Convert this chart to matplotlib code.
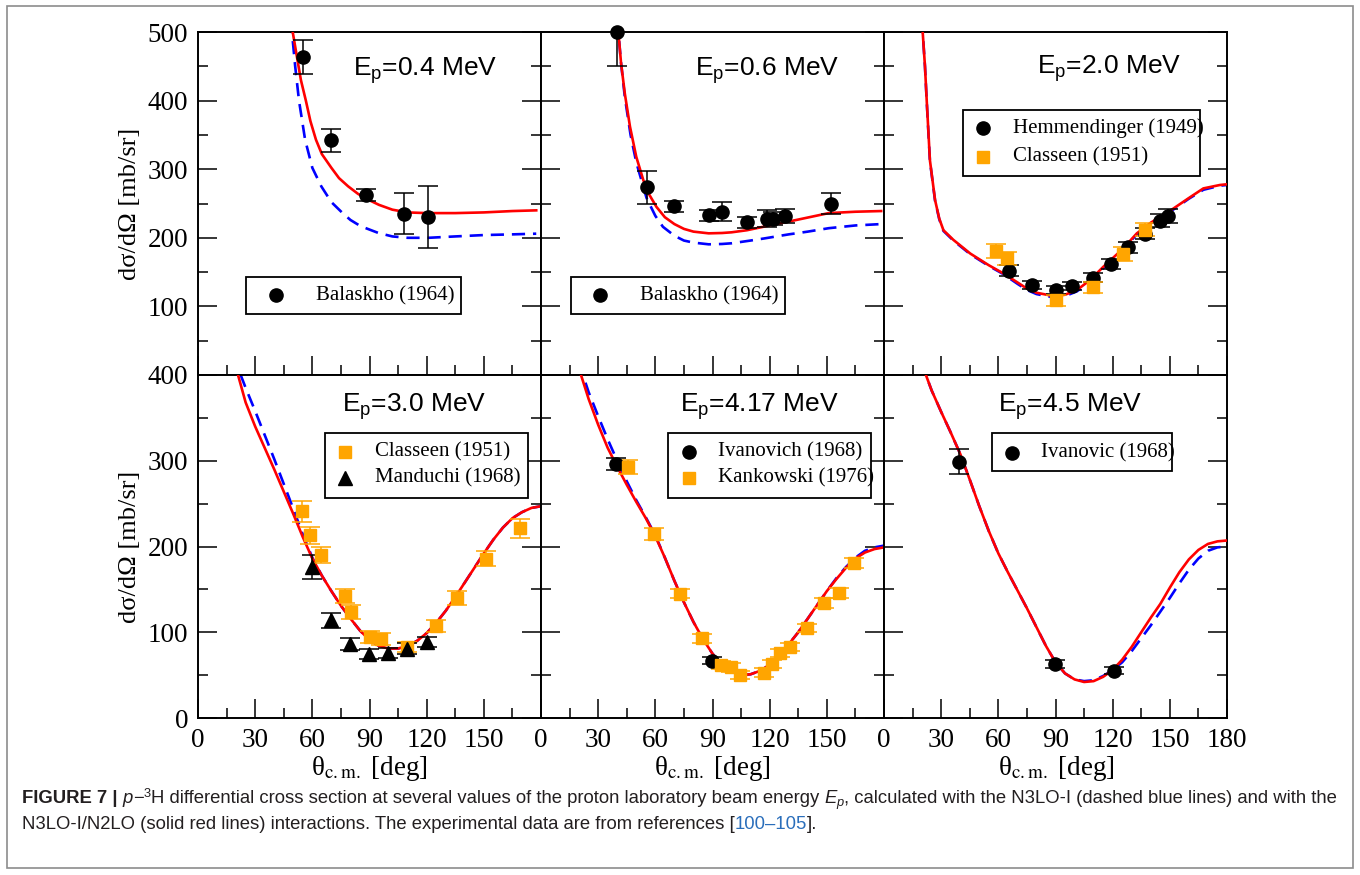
import matplotlib
matplotlib.use('Agg')
import matplotlib.pyplot as plt
from matplotlib.patches import Rectangle
from matplotlib import font_manager
from matplotlib.transforms import IdentityTransform

# ---- data ---------------------------------------------------------------
# Ep = 0.4 MeV
bal04_th = [55.3, 69.9, 88.1, 108.2, 120.9]
bal04_xs = [464, 342, 262, 235, 230]
bal04_er = [25, 17, 9, 30, 45]
red04_th = [48, 49.7, 51.9, 54, 56.6, 59, 61.9, 65, 70, 74, 78.8, 84, 89, 95, 102, 110, 120, 135, 150, 165, 177.5]
red04_xs = [560, 500, 464, 430, 400, 370, 343, 322, 302, 287, 275, 264, 256, 248, 241, 237, 236, 236, 237, 239, 240]
blu04_th = [47.5, 49.3, 51, 53, 56.2, 60, 64.7, 70, 75.9, 80, 85.3, 94.7, 102, 110, 121, 135, 150, 165, 177.5]
blu04_xs = [560, 500, 450, 400, 343, 302, 275, 252, 236, 226, 217, 207, 202, 200, 200, 202, 204, 205, 206]

# Ep = 0.6 MeV
bal06_th = [40.0, 55.4, 69.8, 88.3, 95.1, 108.2, 118.7, 121.5, 128.0, 152.2]
bal06_xs = [500, 274, 246, 233, 238, 223, 228, 228, 232, 250]
bal06_er = [50, 24, 8, 8, 14, 8, 12, 10, 10, 15]
red06_th = [39.5, 40.6, 42, 44, 46.7, 50, 53.7, 57, 60.6, 65, 70, 75, 80, 88, 95, 100, 108, 120, 134, 151, 165, 178.5]
red06_xs = [560, 500, 455, 410, 362, 318, 284, 262, 245, 230, 220, 213, 209, 206.5, 207, 208, 211, 218, 226, 236, 238, 239]
blu06_th = [39.5, 40.6, 42, 44, 47, 50, 55.4, 60, 64, 70, 75, 80, 88, 95, 100, 110, 117, 130, 140, 151, 165, 178.5]
blu06_xs = [560, 500, 455, 405, 350, 310, 258, 232, 216, 203, 196, 193, 190.5, 191, 192, 196, 199, 205, 209, 214, 218, 220]

# Ep = 2.0 MeV
hem20_th = [65.8, 77.5, 90.3, 98.5, 109.5, 119.0, 128.2, 136.8, 145.0, 148.9]
hem20_xs = [152, 131, 124, 130, 142, 162, 186, 206, 225, 232]
hem20_er = [8, 6, 6, 6, 7, 7, 8, 8, 9, 10]
cla20_th = [58.8, 64.7, 90.3, 109.5, 125.3, 136.8]
cla20_xs = [181, 170, 109, 128, 176, 212]
cla20_er = [10, 10, 8, 8, 10, 10]
red20_th = [19.8, 20.3, 21.5, 22.4, 24.1, 26.8, 29, 31.2, 36.4, 45.3, 55, 62.7, 70, 75, 80, 89, 95,
            101.3, 108, 115.2, 125, 132.7, 140, 150.2, 160, 167.6, 176.3, 180]
red20_xs = [560, 500, 450, 401, 313, 255, 228, 211, 197, 177, 160, 148, 135, 126, 120, 115, 117,
            124, 138, 158, 183, 206.5, 222, 239.5, 258, 272, 277, 278]
blu20_xs = [560, 500, 450, 400, 312, 254, 227, 210, 196, 176, 159, 147, 133, 124, 118, 113, 115,
            122, 136, 156, 182, 205, 221, 238, 257, 270, 276, 277]

# Ep = 3.0 MeV
cla30_th = [54.6, 58.8, 64.7, 77.0, 80.1, 90.1, 96.2, 109.8, 125.0, 136.0, 151.3, 168.8]
cla30_xs = [241, 213, 190, 142, 124, 95, 92, 83, 107, 140, 186, 221]
cla30_er = [12, 10, 9, 8, 8, 7, 7, 6, 7, 8, 9, 11]
man30_th = [60.0, 70.0, 80.0, 89.7, 99.7, 109.8, 120.0]
man30_xs = [176, 114, 86, 75, 76, 81, 89]
man30_er = [14, 9, 7, 6, 6, 6, 6]
red30_th = [20, 21, 25, 30, 35, 40, 45, 50, 55, 60, 65, 70, 75, 80, 85, 90, 95, 100, 105, 110, 115,
            120, 125, 130, 135, 140, 145, 150, 155, 160, 165, 170, 175, 180]
red30_xs = [430, 400, 368, 340, 315, 290, 264, 238, 211, 186, 166, 148, 131, 116, 102, 91, 84, 81, 81,
            84, 90, 99, 111, 125, 141, 158, 175, 192, 208, 222, 233, 240, 245, 247]
blu30_th = [21, 22.4, 25, 30, 35, 40, 45, 50, 55, 60, 65, 70, 75, 80, 85, 90, 95, 100, 105, 110, 115,
            120, 125, 130, 135, 140, 145, 150, 155, 160, 165, 170, 175, 180]
blu30_xs = [425, 400, 385, 358, 330, 302, 273, 244, 214, 187, 166, 148, 131, 116, 102, 91, 84, 81, 81,
            84, 90, 99, 111, 125, 141, 158, 175, 192, 208, 222, 233, 240, 245, 247]

# Ep = 4.17 MeV
iva417_th = [39.4, 89.7]
iva417_xs = [296, 67]
iva417_er = [7, 4]
kan417_th = [45.8, 59.5, 73.1, 84.5, 94.4, 99.7, 104.6, 116.8, 121.0, 125.6, 130.8, 139.6, 148.3, 156.2, 164.4]
kan417_xs = [293, 215, 145, 93, 62, 59, 50, 53, 63, 76, 83, 105, 134, 146, 181]
kan417_er = [8, 7, 5, 5, 5, 5, 5, 5, 5, 5, 5, 5, 6, 6, 6]
red417_th = [20, 21, 25, 30, 35, 40, 45, 50, 55, 60, 65, 70, 75, 80, 85, 90, 95, 100, 105, 110, 115,
             120, 125, 130, 135, 140, 145, 150, 155, 160, 165, 170, 175, 180]
red417_xs = [420, 400, 372, 342, 315, 293, 272, 252, 233, 212, 187, 160, 135, 112, 92, 75, 62, 54, 50,
             51, 55, 62, 73, 86, 100, 116, 132, 148, 162, 175, 186, 193, 197, 199]
blu417_th = [21, 22, 25, 30, 35, 40, 45, 50, 55, 60, 65, 70, 75, 80, 85, 90, 95, 100, 105, 110, 115,
             120, 125, 130, 135, 140, 145, 150, 155, 160, 165, 170, 175, 180]
blu417_xs = [415, 400, 380, 352, 325, 300, 276, 254, 234, 213, 187, 160, 135, 112, 92, 75, 62, 54, 50,
             51, 55, 62, 73, 86, 100, 116, 132, 148, 163, 176, 187, 195, 199, 201]

# Ep = 4.5 MeV
iva45_th = [39.4, 89.7, 120.7]
iva45_xs = [299, 63, 55]
iva45_er = [15, 5, 4]
red45_th = [21, 22, 25, 30, 35, 40, 45, 50, 55, 60, 65, 70, 75, 80, 85, 90, 95, 100, 105, 110, 115,
            120, 125, 130, 135, 140, 145, 150, 155, 160, 165, 170, 175, 180]
red45_xs = [415, 400, 382, 357, 333, 308, 278, 247, 218, 192, 170, 149, 128, 106, 84, 65, 52, 45, 42,
            43, 48, 56, 68, 83, 100, 117, 133, 152, 170, 185, 196, 203, 206, 207]
blu45_xs = [415, 400, 382, 357, 333, 308, 278, 247, 218, 192, 170, 149, 128, 106, 84, 65, 52, 45, 43,
            44, 49, 56, 65, 78, 93, 108, 124, 140, 157, 173, 186, 195, 199, 200]

titles = ['E$_{\\mathrm{p}}$=0.4 MeV', 'E$_{\\mathrm{p}}$=0.6 MeV', 'E$_{\\mathrm{p}}$=2.0 MeV',
          'E$_{\\mathrm{p}}$=3.0 MeV', 'E$_{\\mathrm{p}}$=4.17 MeV', 'E$_{\\mathrm{p}}$=4.5 MeV']
ylabel = 'd\u03c3/d\u03a9 [mb/sr]'
xlabel = '\u03b8$_{\\rm c.m.}$ [deg]'

ORANGE = '#ffa500'
W, H = 1360, 875

plt.rcParams['font.family'] = ['Liberation Serif', 'DejaVu Serif']
plt.rcParams['mathtext.fontset'] = 'custom'
plt.rcParams['mathtext.rm'] = 'Liberation Sans'
plt.rcParams['mathtext.it'] = 'Liberation Sans:italic'

fig = plt.figure(figsize=(W / 100, H / 100), dpi=100)


def px(x, y):
    return x / W, 1 - y / H


def panel(col, row):
    x0 = [198, 541, 884][col]
    y0 = [32, 375][row]
    ax = fig.add_axes([x0 / W, 1 - (y0 + 343) / H, 343 / W, 343 / H])
    ax.set_xlim(0, 180)
    ax.set_xticks(range(0, 181 if col == 2 else 151, 30))
    ax.set_xticks(range(15, 180, 30), minor=True)
    if row == 0:
        ax.set_ylim(0, 500)
        ax.set_yticks(range(100, 501, 100))
        ax.set_yticks(range(50, 500, 100), minor=True)
    else:
        ax.set_ylim(0, 400)
        ax.set_yticks(range(0, 401, 100))
        ax.set_yticks(range(50, 400, 100), minor=True)
    ax.tick_params(which='both', direction='in', top=False, right=True, width=1.1)
    ax.tick_params(which='major', length=13.5, labelsize=19.5, pad=7)
    ax.tick_params(which='minor', length=7)
    if row == 0:
        ax.tick_params(labelbottom=False)
    if col > 0:
        ax.tick_params(labelleft=False)
    for s in ax.spines.values():
        s.set_linewidth(1.4)
    return ax


def curves(ax, bth, bxs, rth, rxs):
    ax.plot(bth, bxs, color='blue', lw=1.9, dashes=(5, 3), zorder=2)
    ax.plot(rth, rxs, color='red', lw=1.9, zorder=3)


def points(ax, th, xs, er, marker, color, ms):
    c = ax.errorbar(th, xs, yerr=er, fmt=marker, color=color, ms=ms, elinewidth=1.1,
                    capsize=7, capthick=1.1, zorder=4)
    c.lines[0].set_clip_on(False)


def key(ax, box, rows, mx, tx):
    x0, y0, x1, y1 = box
    ax.add_patch(Rectangle((x0, y0), x1 - x0, y1 - y0, transform=ax.transAxes,
                           fc='white', ec='black', lw=1.3, zorder=5))
    for marker, color, ms, label, y in rows:
        ax.plot([mx], [y], marker=marker, color=color, ms=ms, ls='none',
                transform=ax.transAxes, zorder=6)
        ax.text(tx, y, label, transform=ax.transAxes, va='center', fontsize=15, zorder=6)


def title(ax, s, x, y):
    ax.text(x, y, s, transform=ax.transAxes, ha='center', va='baseline', fontsize=19,
            family='Liberation Sans')


# top row
ax = panel(0, 0)
curves(ax, blu04_th, blu04_xs, red04_th, red04_xs)
points(ax, bal04_th, bal04_xs, bal04_er, 'o', 'black', 9.5)
key(ax, (0.14, 0.178, 0.767, 0.286), [('o', 'black', 9.5, 'Balaskho (1964)', 0.232)], 0.227, 0.344)
title(ax, titles[0], 0.662, 0.872)

ax = panel(1, 0)
curves(ax, blu06_th, blu06_xs, red06_th, red06_xs)
points(ax, bal06_th, bal06_xs, bal06_er, 'o', 'black', 9.5)
key(ax, (0.087, 0.178, 0.71, 0.286), [('o', 'black', 9.5, 'Balaskho (1964)', 0.232)], 0.172, 0.289)
title(ax, titles[1], 0.66, 0.872)

ax = panel(2, 0)
curves(ax, red20_th, blu20_xs, red20_th, red20_xs)
points(ax, hem20_th, hem20_xs, hem20_er, 'o', 'black', 9.5)
points(ax, cla20_th, cla20_xs, cla20_er, 's', ORANGE, 8)
key(ax, (0.229, 0.58, 0.92, 0.773),
    [('o', 'black', 9.5, 'Hemmendinger (1949)', 0.719),
     ('s', ORANGE, 8, 'Classeen (1951)', 0.636)], 0.288, 0.375)
title(ax, titles[2], 0.655, 0.877)

# bottom row
ax = panel(0, 1)
curves(ax, blu30_th, blu30_xs, red30_th, red30_xs)
points(ax, cla30_th, cla30_xs, cla30_er, 's', ORANGE, 8)
points(ax, man30_th, man30_xs, man30_er, '^', 'black', 9.5)
key(ax, (0.371, 0.64, 0.962, 0.83),
    [('s', ORANGE, 8, 'Classeen (1951)', 0.776),
     ('^', 'black', 9.5, 'Manduchi (1968)', 0.699)], 0.428, 0.515)
title(ax, titles[3], 0.63, 0.893)

ax = panel(1, 1)
curves(ax, blu417_th, blu417_xs, red417_th, red417_xs)
points(ax, iva417_th, iva417_xs, iva417_er, 'o', 'black', 9.5)
points(ax, kan417_th, kan417_xs, kan417_er, 's', ORANGE, 8)
key(ax, (0.371, 0.64, 0.962, 0.83),
    [('o', 'black', 9.5, 'Ivanovich (1968)', 0.776),
     ('s', ORANGE, 8, 'Kankowski (1976)', 0.699)], 0.432, 0.515)
title(ax, titles[4], 0.637, 0.893)

ax = panel(2, 1)
curves(ax, red45_th, blu45_xs, red45_th, red45_xs)
points(ax, iva45_th, iva45_xs, iva45_er, 'o', 'black', 9.5)
key(ax, (0.314, 0.72, 0.84, 0.83), [('o', 'black', 9.5, 'Ivanovic (1968)', 0.773)], 0.372, 0.457)
title(ax, titles[5], 0.544, 0.893)

# axis labels
for yc in (203.5, 546.5):
    fig.text(*px(130, yc), ylabel, rotation=90, ha='center', va='center', fontsize=19)
for xc in (369.5, 712.5, 1056):
    fig.text(*px(xc, 775), xlabel, ha='center', va='baseline', fontsize=19.5, math_fontfamily='stix')

# frame around figure + caption
fig.add_artist(Rectangle(px(7, 868), 1346 / W, 862 / H, transform=fig.transFigure,
                         fill=False, ec='#8c8c8c', lw=1.2))

names = {f.name for f in font_manager.fontManager.ttflist}
cap_fam = 'Liberation Sans Narrow' if 'Liberation Sans Narrow' in names else 'Liberation Sans'
cap_size = 14.5 if cap_fam == 'Liberation Sans Narrow' else 13.3
TXT = '#231f20'
styles = {
    'r': dict(),
    'b': dict(weight='bold'),
    'i': dict(style='italic'),
    'sup': dict(size_mul=0.7, dy=6),
    'sub': dict(style='italic', size_mul=0.7, dy=-3),
    'link': dict(color='#2a6ebb'),
}
rend = fig.canvas.get_renderer()


def tw(s, **kw):
    t = fig.text(0, 0, s, fontsize=cap_size, family=[cap_fam, 'DejaVu Sans'], **kw)
    w = t.get_window_extent(rend).width
    t.remove()
    return w


space_w = tw('x x') - tw('xx')


def caption_line(x, ybase, parts):
    for s, st in parts:
        opts = dict(styles[st])
        mul = opts.pop('size_mul', 1.0)
        dy = opts.pop('dy', 0)
        color = opts.pop('color', TXT)
        lead = len(s) - len(s.lstrip(' '))
        trail = len(s) - len(s.rstrip(' '))
        x += lead * space_w
        s = s.strip(' ')
        t = fig.text(x, H - ybase + dy, s, transform=IdentityTransform(), fontsize=cap_size * mul,
                     family=[cap_fam, 'DejaVu Sans'], color=color, va='baseline', **opts)
        x = t.get_window_extent(rend).x1 + trail * space_w


caption_line(22, 803, [
    ('FIGURE 7 |', 'b'), (' p', 'i'), ('\u2212', 'r'), ('3', 'sup'),
    ('H differential cross section at several values of the proton laboratory beam energy ', 'r'),
    ('E', 'i'), ('p', 'sub'),
    (', calculated with the N3LO-I (dashed blue lines) and with the', 'r'),
])
caption_line(22, 829, [
    ('N3LO-I/N2LO (solid red lines) interactions. The experimental data are from references [', 'r'),
    ('100\u2013105', 'link'), (']. ', 'r'),
])

fig.savefig('out.png', dpi=100)
